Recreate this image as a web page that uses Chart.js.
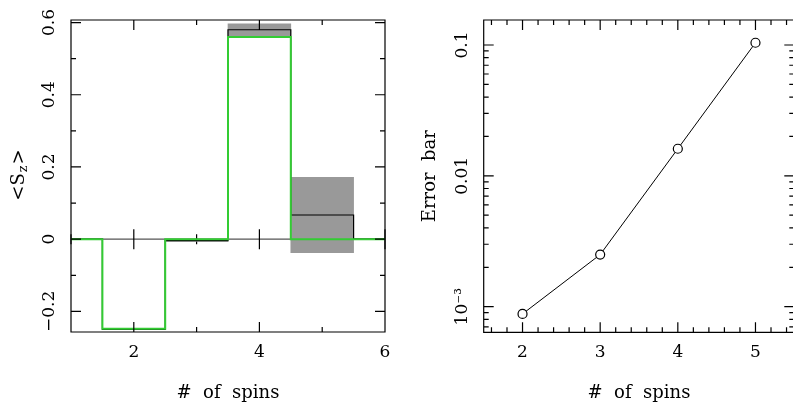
<!DOCTYPE html>
<html><head><meta charset="utf-8">
<script src="https://cdn.jsdelivr.net/npm/chart.js@4/dist/chart.umd.min.js"></script>
<style>
html,body{margin:0;padding:0;background:#fff;overflow:hidden;width:793px;height:405px;}
#wrap{position:relative;width:793px;height:405px;overflow:hidden;}
#c1{position:absolute;left:0;top:0;}
#c2{position:absolute;left:400px;top:0;}
</style></head><body>
<div id="wrap"><canvas id="c1" width="400" height="405"></canvas><canvas id="c2" width="400" height="405"></canvas></div>
<script>
// ---- data ----
const spins = [2, 3, 4, 5];
const szMeasured = [-0.25, -0.004, 0.58, 0.067];   // black histogram
const szExact = [-0.248, 0.0, 0.56, 0.0];           // green histogram
const errorBar = [0.00088, 0.0025, 0.0161, 0.104];  // right panel / grey bands
const edgeSpins = [1, 6];
const edgeValues = [0, 0];

// ---- ticks ----
const leftXTicks = [1, 2, 3, 4, 5, 6];
const leftXLabels = {'2': '2', '4': '4', '6': '6'};
const leftYTicks = [-0.2, -0.1, 0, 0.1, 0.2, 0.3, 0.4, 0.5, 0.6];
const leftYLabels = {'-0.2': '\u22120.2', '0': '0', '0.2': '0.2', '0.4': '0.4', '0.6': '0.6'};
const rightXTicks = [1.6, 1.8, 2, 2.2, 2.4, 2.6, 2.8, 3, 3.2, 3.4, 3.6, 3.8, 4, 4.2, 4.4, 4.6, 4.8, 5, 5.2, 5.4];
const rightXLabels = {'2': '2', '3': '3', '4': '4', '5': '5'};
const rightYTicks = [0.0007, 0.0008, 0.0009, 0.001, 0.002, 0.003, 0.004, 0.005, 0.006, 0.007, 0.008, 0.009,
                     0.01, 0.02, 0.03, 0.04, 0.05, 0.06, 0.07, 0.08, 0.09, 0.1];
const rightYLabels = {'0.001': '10\u207B\u00B3', '0.01': '0.01', '0.1': '0.1'};

const FONT = "'DejaVu Serif', serif";

function withEdges(vals) {
  const pts = [{x: edgeSpins[0], y: edgeValues[0]}];
  spins.forEach((s, i) => pts.push({x: s, y: vals[i]}));
  pts.push({x: edgeSpins[1], y: edgeValues[1]});
  return pts;
}

// inward ticks on all four sides, frame, and optional zero axis
const frameTicks = {
  id: 'frameTicks',
  beforeDatasetsDraw(chart, args, opts) {
    if (!opts.zeroAxis) return;
    const {ctx, chartArea: a, scales: {x, y}} = chart;
    const y0 = y.getPixelForValue(0);
    ctx.save();
    ctx.strokeStyle = '#555'; ctx.lineWidth = 1.2;
    ctx.beginPath(); ctx.moveTo(a.left, y0); ctx.lineTo(a.right, y0); ctx.stroke();
    ctx.strokeStyle = '#000'; ctx.lineWidth = 1.2;
    ctx.beginPath();
    x.ticks.forEach(t => {
      const px = x.getPixelForValue(t.value);
      const len = t.label ? 10 : 5;
      ctx.moveTo(px, y0 - len); ctx.lineTo(px, y0 + len);
    });
    ctx.stroke();
    ctx.restore();
  },
  afterDatasetsDraw(chart, args, opts) {
    const {ctx, chartArea: a, scales: {x, y}} = chart;
    ctx.save();
    ctx.strokeStyle = '#000'; ctx.lineWidth = 1.2;
    ctx.beginPath();
    ctx.rect(a.left, a.top, a.right - a.left, a.bottom - a.top);
    x.ticks.forEach(t => {
      const px = x.getPixelForValue(t.value);
      const len = t.label ? 10 : 5;
      ctx.moveTo(px, a.bottom); ctx.lineTo(px, a.bottom - len);
      ctx.moveTo(px, a.top); ctx.lineTo(px, a.top + len);
    });
    y.ticks.forEach(t => {
      const py = y.getPixelForValue(t.value);
      const len = t.label ? 10 : 5;
      ctx.moveTo(a.left, py); ctx.lineTo(a.left + len, py);
      ctx.moveTo(a.right, py); ctx.lineTo(a.right - len, py);
    });
    ctx.stroke();
    ctx.restore();
  }
};

// y title with a subscript
const subTitle = {
  id: 'subTitle',
  afterDraw(chart, args, opts) {
    if (!opts.main) return;
    const {ctx, chartArea: a} = chart;
    ctx.save();
    ctx.translate(opts.x, (a.top + a.bottom) / 2);
    ctx.rotate(-Math.PI / 2);
    ctx.fillStyle = '#000';
    ctx.textBaseline = 'middle';
    ctx.textAlign = 'left';
    const big = '18px ' + FONT, small = '13px ' + FONT;
    ctx.font = big;
    const w1 = ctx.measureText(opts.main).width, w3 = ctx.measureText(opts.close).width;
    ctx.font = small;
    const w2 = ctx.measureText(opts.sub).width;
    let cx = -(w1 + w2 + w3) / 2;
    ctx.font = big; ctx.fillText(opts.main, cx, 0); cx += w1 + 1;
    ctx.font = small; ctx.fillText(opts.sub, cx, 5); cx += w2 + 1;
    ctx.font = big; ctx.fillText(opts.close, cx, 0);
    ctx.restore();
  }
};

const setTicks = arr => scale => { scale.ticks = arr.map(v => ({value: v})); };
const labelOf = map => v => map[String(v)] || '';
const fitX = h => s => { s.height = h; s.paddingLeft = 0; s.paddingRight = 0; };
const fitY = w => s => { s.width = w; s.paddingTop = 0; s.paddingBottom = 0; };

const common = {
  responsive: false, animation: false, events: [],
  plugins: {legend: {display: false}, tooltip: {enabled: false}}
};

new Chart(document.getElementById('c1'), {
  type: 'line',
  data: {
    datasets: [
      {
        type: 'bar',
        data: spins.map((s, i) => ({x: s, y: [szMeasured[i] - errorBar[i], szMeasured[i] + errorBar[i]]})),
        backgroundColor: '#999999', borderWidth: 0,
        barPercentage: 1, categoryPercentage: 1, order: 3
      },
      {
        data: withEdges(szMeasured), stepped: 'middle',
        borderColor: '#000', borderWidth: 1.2, pointRadius: 0, fill: false, order: 2
      },
      {
        data: withEdges(szExact), stepped: 'middle',
        borderColor: '#33cc33', borderWidth: 2, pointRadius: 0, fill: false, order: 1
      }
    ]
  },
  options: Object.assign({}, common, {
    layout: {padding: {top: 20, right: 15, left: 0, bottom: 0}},
    plugins: Object.assign({}, common.plugins, {
      frameTicks: {zeroAxis: true},
      subTitle: {main: '<S', sub: 'z', close: '>', x: 19}
    }),
    scales: {
      x: {
        type: 'linear', min: 1, max: 6, offset: false, bounds: 'data',
        afterBuildTicks: setTicks(leftXTicks),
        ticks: {callback: labelOf(leftXLabels), autoSkip: false, maxRotation: 0, minRotation: 0,
                padding: 10, font: {family: FONT, size: 17}, color: '#000'},
        grid: {display: false, drawTicks: false, offset: false}, border: {display: false},
        title: {display: true, text: '#  of  spins', font: {family: FONT, size: 18}, color: '#000',
                padding: {top: 0, bottom: 1}},
        afterFit: fitX(73)
      },
      y: {
        type: 'linear', min: -0.257, max: 0.607, bounds: 'data',
        afterBuildTicks: setTicks(leftYTicks),
        ticks: {callback: labelOf(leftYLabels), autoSkip: false, minRotation: 90, maxRotation: 90,
                crossAlign: 'center', padding: 1, font: {family: FONT, size: 17}, color: '#000'},
        grid: {display: false, drawTicks: false}, border: {display: false},
        afterFit: fitY(71)
      }
    }
  }),
  plugins: [frameTicks, subTitle]
});

new Chart(document.getElementById('c2'), {
  type: 'line',
  data: {
    datasets: [{
      data: spins.map((s, i) => ({x: s, y: errorBar[i]})),
      borderColor: '#000', borderWidth: 1, pointRadius: 4.5,
      pointBackgroundColor: '#fff', pointBorderColor: '#000', pointBorderWidth: 1.2, fill: false
    }]
  },
  options: Object.assign({}, common, {
    layout: {padding: {top: 20, right: 3.3, left: 0, bottom: 0}},
    plugins: Object.assign({}, common.plugins, {frameTicks: {zeroAxis: false}}),
    scales: {
      x: {
        type: 'linear', min: 1.5, max: 5.5, offset: false, bounds: 'data',
        afterBuildTicks: setTicks(rightXTicks),
        ticks: {callback: labelOf(rightXLabels), autoSkip: false, maxRotation: 0, minRotation: 0,
                padding: 10, font: {family: FONT, size: 17}, color: '#000'},
        grid: {display: false, drawTicks: false}, border: {display: false},
        title: {display: true, text: '#  of  spins', font: {family: FONT, size: 18}, color: '#000',
                padding: {top: 0, bottom: 1}},
        afterFit: fitX(72.7)
      },
      y: {
        type: 'logarithmic', min: 0.000637, max: 0.1552, bounds: 'data',
        afterBuildTicks: setTicks(rightYTicks),
        ticks: {callback: labelOf(rightYLabels), autoSkip: false, minRotation: 90, maxRotation: 90,
                crossAlign: 'center', padding: 2, font: {family: FONT, size: 17}, color: '#000'},
        grid: {display: false, drawTicks: false}, border: {display: false},
        title: {display: true, text: 'Error  bar', font: {family: FONT, size: 18}, color: '#000',
                padding: {top: 20, bottom: 0}},
        afterFit: fitY(83.7)
      }
    }
  }),
  plugins: [frameTicks]
});
</script>
</body></html>
